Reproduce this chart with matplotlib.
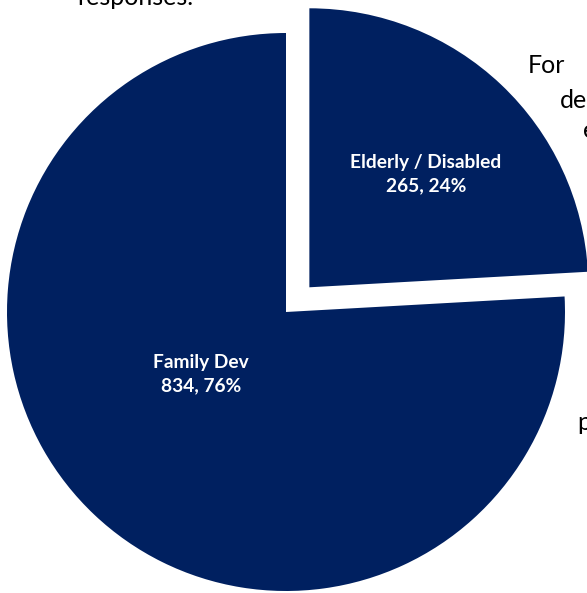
import matplotlib.pyplot as plt

# survey response split by program type
categories = ['Elderly / Disabled', 'Family Dev']
counts = [265, 834]
slice_colors = ['#002060', '#002060']

# fragments of the surrounding slide text peeking out from behind the pie
side_text = ['responses.', 'For', 'de', 'e', 'p']
side_pos = [(77, 588), (528, 520), (560, 485), (583, 455), (577, 163)]

W, H = 587, 593
fig = plt.figure(figsize=(W / 100, H / 100), dpi=100)
ax = fig.add_axes([0, 0, 1, 1])
ax.patch.set_alpha(0)

total = sum(counts)
centre = (286, 281)
radius = 279
wedges, _ = ax.pie(counts, center=centre, radius=radius, startangle=90,
                   counterclock=False, explode=[34, 0], colors=slice_colors,
                   wedgeprops=dict(linewidth=0, antialiased=True))
for w in wedges:
    w.set_zorder(2)

labels = [f'{c}\n{n}, {round(100 * n / total)}%' for c, n in zip(categories, counts)]
label_pos = [(426, 419), (201, 219)]
for txt, (x, y) in zip(labels, label_pos):
    ax.text(x, y, txt, ha='center', va='center', color='white', fontsize=13.8,
            fontweight='bold', family='Lato', linespacing=1.4, zorder=3)

for txt, (x, y) in zip(side_text, side_pos):
    ax.text(x, y, txt, ha='left', va='baseline', color='black', fontsize=18,
            family='Lato', zorder=0, clip_on=False)

ax.set_xlim(0, W)
ax.set_ylim(0, H)
ax.set_aspect('auto')
ax.axis('off')

fig.savefig('out.png', dpi=100)
